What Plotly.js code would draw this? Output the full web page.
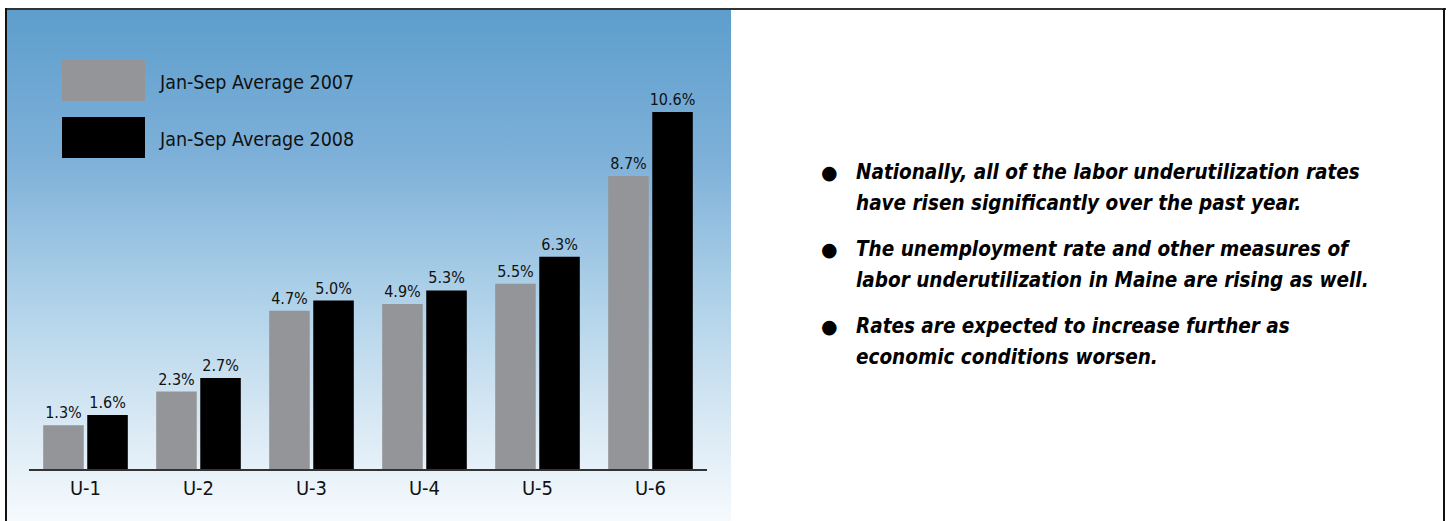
<!DOCTYPE html>
<html>
<head>
<meta charset="utf-8">
<script src="https://cdn.plot.ly/plotly-3.0.1.min.js"></script>
<style>
  html, body { margin: 0; padding: 0; background: #ffffff; }
  #wrap { position: relative; width: 1448px; height: 521px; overflow: hidden; background: #ffffff; }
  #bg { position: absolute; left: 7px; top: 10px; width: 724px; height: 511px;
        background: linear-gradient(to bottom, #5d9ecd 0%, #7fb1d9 30%, #acd0e8 55%, #d4e6f3 78%, #f6fafd 100%); }
  #frameTop { position: absolute; left: 5px; top: 8px; width: 1441px; height: 2px; background: #333333; }
  #frameLeft { position: absolute; left: 5px; top: 8px; width: 2px; height: 513px; background: #111111; }
  #frameRight { position: absolute; left: 1443px; top: 8px; width: 2px; height: 513px; background: #111111; }
  #chart { position: absolute; left: 0; top: 0; width: 1448px; height: 521px; }
</style>
</head>
<body>
<div id="wrap">
  <div id="bg"></div>
  <div id="frameTop"></div>
  <div id="frameLeft"></div>
  <div id="frameRight"></div>
  <div id="chart"></div>
</div>
<script>
const categories = ["U-1", "U-2", "U-3", "U-4", "U-5", "U-6"];
const seriesNames = ["Jan-Sep Average 2007", "Jan-Sep Average 2008"];
const values2007 = [1.3, 2.3, 4.7, 4.9, 5.5, 8.7];
const values2008 = [1.6, 2.7, 5.0, 5.3, 6.3, 10.6];
const bulletLines = [
  ["Nationally, all of the labor underutilization rates", "have risen significantly over the past year."],
  ["The unemployment rate and other measures of", "labor underutilization in Maine are rising as well."],
  ["Rates are expected to increase further as", "economic conditions worsen."]
];

const W = 1448, H = 521;
const px = x => x / W;
const py = y => 1 - y / H;
const narrow = '"DejaVu Sans Condensed", "Liberation Sans Narrow", Arial, sans-serif';
const colors = ["#939598", "#000000"];

const traces = [values2007, values2008].map((vals, i) => ({
  type: "bar",
  x: categories,
  y: vals,
  name: seriesNames[i],
  marker: { color: colors[i], line: { width: 0 } },
  text: vals.map(v => v.toFixed(1) + "%"),
  textposition: "outside",
  constraintext: "none",
  textfont: { family: narrow, size: 16, color: "#111111" },
  cliponaxis: false,
  hoverinfo: "x+y+name",
  showlegend: false
}));

const shapes = [];
const annotations = [];

// legend swatches + labels
const legendTop = [60, 117];
seriesNames.forEach((name, i) => {
  shapes.push({
    type: "rect", xref: "paper", yref: "paper",
    x0: px(62), x1: px(145), y0: py(legendTop[i] + 41), y1: py(legendTop[i]),
    fillcolor: colors[i], line: { width: 0 }
  });
  annotations.push({
    xref: "paper", yref: "paper", x: px(157), y: py(legendTop[i] + 22),
    xanchor: "left", yanchor: "middle", showarrow: false,
    text: name, font: { family: narrow, size: 19.5, color: "#111111" }
  });
});

// bullet text
const groupTop = [172, 249, 326];
bulletLines.forEach((lines, g) => {
  annotations.push({
    xref: "paper", yref: "paper", x: px(829), y: py(groupTop[g]),
    xanchor: "center", yanchor: "middle", showarrow: false,
    text: "●", font: { family: "DejaVu Sans, sans-serif", size: 19, color: "#000000" }
  });
  lines.forEach((ln, k) => {
    annotations.push({
      xref: "paper", yref: "paper", x: px(854), y: py(groupTop[g] + 31 * k),
      xanchor: "left", yanchor: "middle", showarrow: false,
      text: "<b><i>" + ln + "</i></b>",
      font: { family: narrow, size: 20.5, color: "#000000" }
    });
  });
});

const layout = {
  width: W, height: H,
  margin: { l: 0, r: 0, t: 0, b: 0, pad: 0 },
  paper_bgcolor: "rgba(0,0,0,0)",
  plot_bgcolor: "rgba(0,0,0,0)",
  barmode: "group",
  bargap: 0.22,
  bargroupgap: 0.08,
  showlegend: false,
  xaxis: {
    domain: [px(29), px(707)],
    range: [-0.5, 5.5],
    showgrid: false, zeroline: false,
    showline: true, linecolor: "#333333", linewidth: 2,
    ticks: "", ticklen: 0,
    tickfont: { family: narrow, size: 20, color: "#111111" },
    fixedrange: true
  },
  yaxis: {
    domain: [py(469), py(64.8)],
    range: [0, 12],
    showgrid: false, zeroline: false, showline: false,
    showticklabels: false, ticks: "",
    fixedrange: true
  },
  shapes: shapes,
  annotations: annotations,
  font: { family: narrow }
};

Plotly.newPlot("chart", traces, layout, { displayModeBar: false, staticPlot: true });
</script>
</body>
</html>
